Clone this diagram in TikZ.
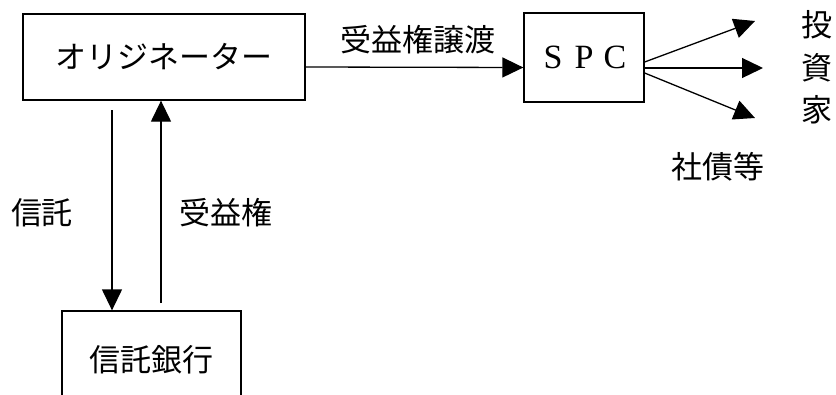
\documentclass[tikz,border=0pt]{standalone}
\usepackage{fontspec}
\newfontfamily\jpfont{Noto Sans CJK JP}
\newfontfamily\serfont{Liberation Serif}
\usetikzlibrary{arrows.meta}
\begin{document}
\begin{tikzpicture}[x=1pt,y=-1pt,
  box/.style={draw, line width=1.3pt, inner sep=0pt, font=\jpfont\fontsize{31}{31}\selectfont},
  lbl/.style={inner sep=0pt, font=\jpfont\fontsize{31}{31}\selectfont},
  arr/.style={line width=1.3pt, -{Triangle[length=21pt,width=20pt]}},
  ln/.style={line width=1.3pt}]
\useasboundingbox (0,0) rectangle (836,394);
\clip (0,0) rectangle (836,394);
\node[box, minimum width=282pt, minimum height=86pt] (orig) at (164,57) {オリジネーター};
\node[box, minimum width=120pt, minimum height=89pt, font=\serfont\fontsize{34}{34}\selectfont] (spc) at (584,57.5)
  {\makebox[31pt]{S}\makebox[31pt]{P}\makebox[31pt]{C}};
\node[box, minimum width=179pt, minimum height=98pt] (bank) at (151.5,360) {信託銀行};
% labels
\node[lbl] (l1) at (418,40) {受益権譲渡};
\node[lbl] (l2) at (42,213) {信託};
\node[lbl] (l3) at (226,213) {受益権};
\node[lbl] (l4) at (718,167) {社債等};
\node[lbl] (i1) at (817,25) {投};
\node[lbl] (i2) at (817,68) {資};
\node[lbl] (i3) at (817,110) {家};
% coordinates for arrow ends
\coordinate (t1) at (755,21);
\coordinate (t2) at (763,68);
\coordinate (t3) at (755,118);
\coordinate (d1) at (112,110);
\coordinate (u1) at (161,303);
% connectors
\draw[arr] ([yshift=-10pt]orig.east) -- ([yshift=-10pt]spc.west);
\draw[arr] (spc.east |- 0,62) -- (t1);
\draw[arr] (spc.east |- 0,68) -- (t2);
\draw[arr] (spc.east |- 0,73) -- (t3);
\draw[arr] (d1) -- (d1 |- bank.north);
\draw[arr] (u1) -- (u1 |- orig.south);
\end{tikzpicture}
\end{document}
